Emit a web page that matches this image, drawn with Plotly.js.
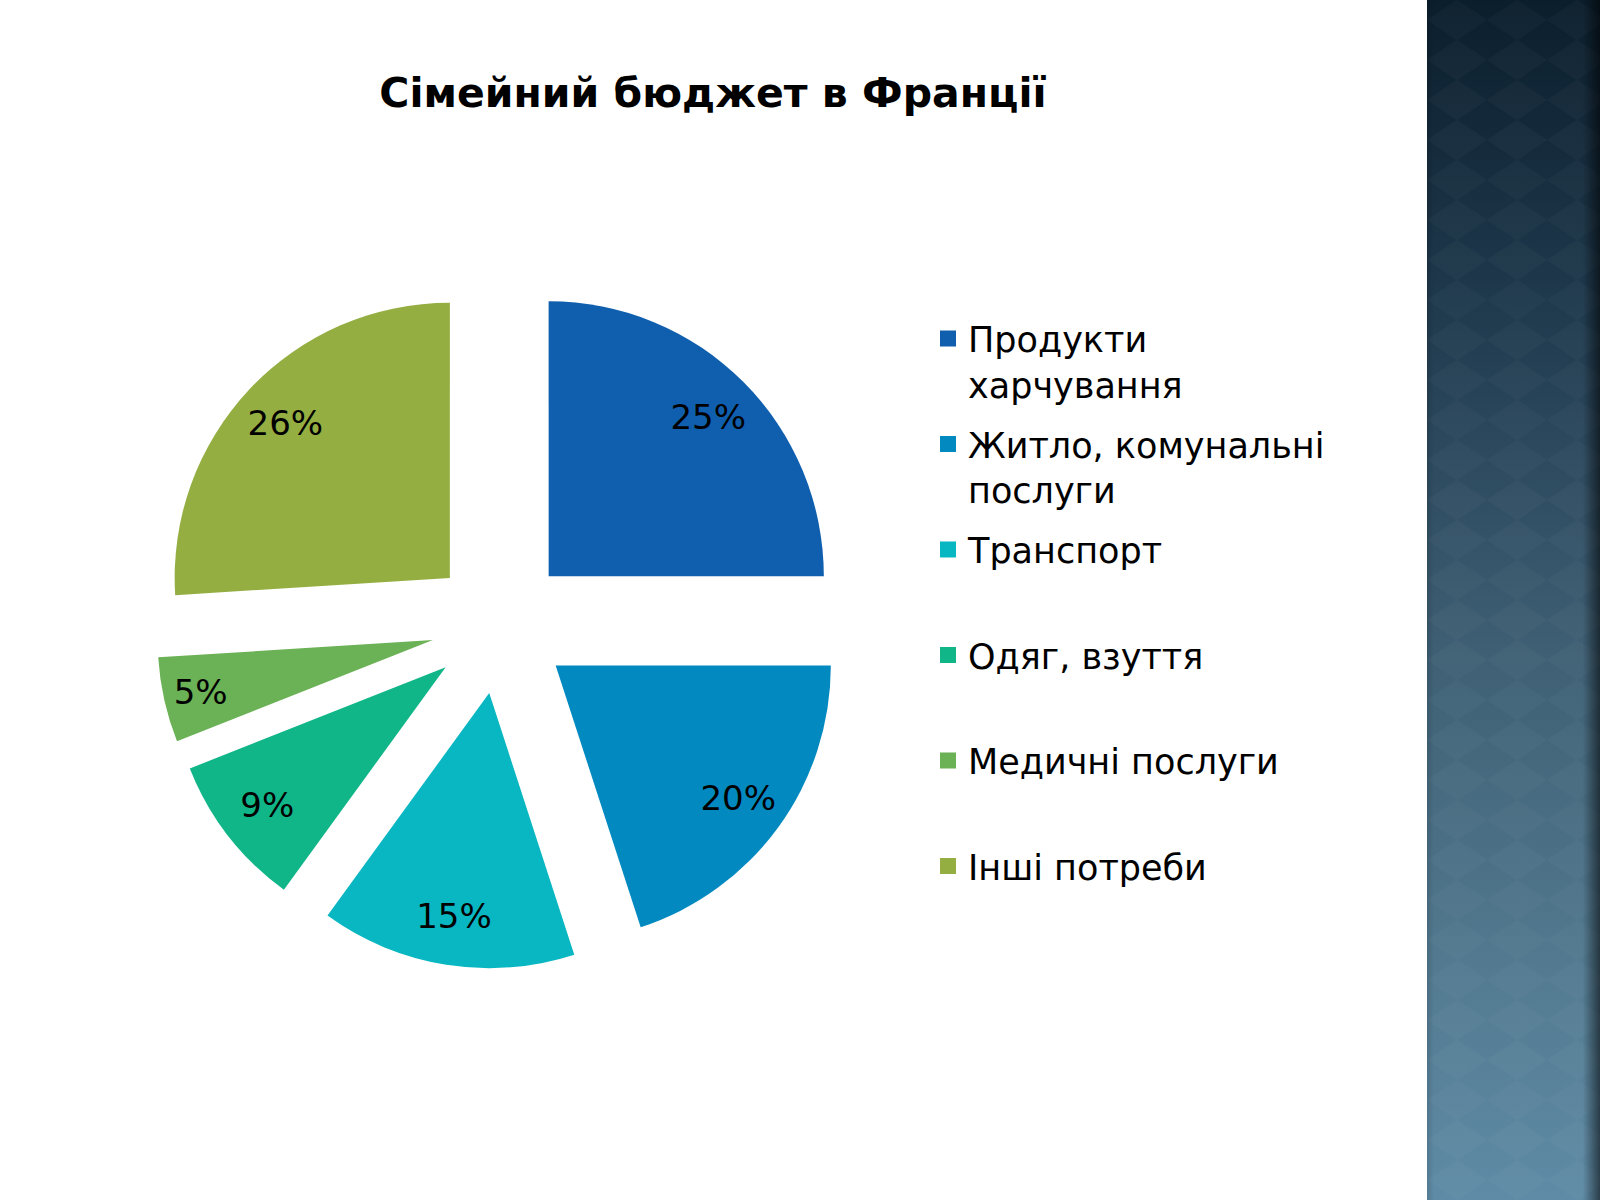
<!DOCTYPE html>
<html>
<head>
<meta charset="utf-8">
<script src="https://cdn.plot.ly/plotly-3.0.1.min.js"></script>
<style>html,body{margin:0;padding:0;background:#fff;}#chart{width:1600px;height:1200px;}</style>
</head>
<body>
<div id="chart"></div>
<script>
// ---- data ----
const chartTitle = "Сімейний бюджет в Франції";
const categories = ["Продукти харчування", "Житло, комунальні послуги", "Транспорт", "Одяг, взуття", "Медичні послуги", "Інші потреби"];
const legendLabels = ["Продукти<br>харчування", "Житло, комунальні<br>послуги", "Транспорт<br> ", "Одяг, взуття<br> ", "Медичні послуги<br> ", "Інші потреби<br> "];
const shares = [25, 20, 15, 9, 5, 26];
const sliceColors = ["#0f5fae", "#0189c0", "#08b7c1", "#10b688", "#6bb155", "#94ae42"];

// ---- decorative side panel (SVG gradient) ----
const panelSvg =
  '<svg xmlns="http://www.w3.org/2000/svg" width="173" height="1200" viewBox="0 0 173 1200" preserveAspectRatio="none">' +
  '<defs>' +
  '<linearGradient id="g" x1="0" y1="0" x2="0" y2="1">' +
  '<stop offset="0" stop-color="#0b1e2c"/><stop offset="0.25" stop-color="#1f394d"/>' +
  '<stop offset="0.55" stop-color="#3f6075"/><stop offset="0.8" stop-color="#52798f"/><stop offset="1" stop-color="#5f8ba6"/>' +
  '</linearGradient>' +
  '<linearGradient id="s" x1="0" y1="0" x2="1" y2="0">' +
  '<stop offset="0" stop-color="#000" stop-opacity="0.12"/><stop offset="0.04" stop-color="#000" stop-opacity="0"/>' +
  '<stop offset="0.9" stop-color="#000" stop-opacity="0"/><stop offset="1" stop-color="#000" stop-opacity="0.55"/>' +
  '</linearGradient>' +
  '<pattern id="p" width="60" height="40" patternUnits="userSpaceOnUse">' +
  '<polygon points="30,0 60,20 30,40 0,20" fill="#ffffff" fill-opacity="0.022"/>' +
  '</pattern>' +
  '</defs>' +
  '<rect width="173" height="1200" fill="url(#g)"/>' +
  '<rect width="173" height="1200" fill="url(#p)"/>' +
  '<rect width="173" height="1200" fill="url(#s)"/>' +
  '</svg>';
const panelSrc = "data:image/svg+xml;charset=utf-8," + encodeURIComponent(panelSvg);

const pieDomain = { x: [0.0975, 0.5275], y: [0.1925, 0.7658] };
const pullAll = shares.map(() => 0.25);

// colored slices
const pieTrace = {
  type: "pie",
  labels: categories,
  values: shares,
  sort: false,
  direction: "clockwise",
  rotation: 0,
  pull: pullAll,
  marker: { colors: sliceColors, line: { width: 0 } },
  textinfo: "none",
  showlegend: false,
  hoverinfo: "label+percent",
  domain: pieDomain
};

// transparent ring carrying the percentage labels (places them near the rim)
const labelTrace = {
  type: "pie",
  labels: categories,
  values: shares,
  sort: false,
  direction: "clockwise",
  rotation: 0,
  pull: pullAll,
  hole: 0.64,
  marker: { colors: sliceColors.map(() => "rgba(0,0,0,0)"), line: { width: 0 } },
  textinfo: "percent",
  textposition: "inside",
  insidetextorientation: "horizontal",
  insidetextfont: { family: "'DejaVu Sans', sans-serif", size: 34, color: "#000000" },
  showlegend: false,
  hoverinfo: "skip",
  domain: pieDomain
};

// legend entries (one per category, square markers)
const legendTraces = categories.map((c, i) => ({
  type: "scatter",
  mode: "markers",
  x: [null], y: [null],
  name: legendLabels[i],
  legendgroup: "g" + i,
  marker: { symbol: "square", size: 20, color: sliceColors[i] },
  showlegend: true,
  hoverinfo: "skip"
}));

const layout = {
  width: 1600,
  height: 1200,
  margin: { l: 0, r: 0, t: 0, b: 0 },
  paper_bgcolor: "#ffffff",
  plot_bgcolor: "rgba(0,0,0,0)",
  xaxis: { visible: false, domain: [0, 0.01] },
  yaxis: { visible: false, domain: [0, 0.01] },
  title: {
    text: "<b>" + chartTitle + "</b>",
    x: 0.4456, xanchor: "center", xref: "paper",
    y: 0.923, yanchor: "middle", yref: "paper",
    font: { family: "'DejaVu Sans', sans-serif", size: 41, color: "#000000" }
  },
  showlegend: true,
  legend: {
    x: 0.58, xanchor: "left",
    y: 0.7423, yanchor: "top",
    valign: "top",
    tracegroupgap: 11.5,
    font: { family: "'DejaVu Sans', sans-serif", size: 35, color: "#000000" },
    bgcolor: "rgba(0,0,0,0)",
    itemclick: false
  },
  images: [{
    source: panelSrc,
    xref: "paper", yref: "paper",
    x: 1427 / 1600, y: 1, xanchor: "left", yanchor: "top",
    sizex: 173 / 1600, sizey: 1, sizing: "stretch", layer: "below"
  }]
};

Plotly.newPlot("chart", [pieTrace, labelTrace].concat(legendTraces), layout, { staticPlot: true });
</script>
</body>
</html>
